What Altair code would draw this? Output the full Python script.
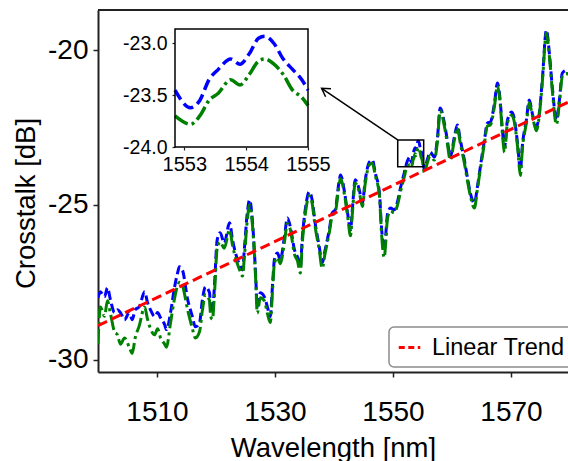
import altair as alt
import pandas as pd

# ---------------- data ----------------
WAVELENGTH = [
    1500.0, 1500.4, 1501.1, 1501.6, 1502.1, 1502.8, 1503.3, 1503.8, 1504.5, 1505.3,
    1505.8, 1506.3, 1507.0, 1507.9, 1508.4, 1508.9, 1509.6, 1510.1, 1510.6, 1511.3,
    1511.6, 1512.3, 1512.9, 1513.5, 1513.8, 1514.3, 1515.2, 1516.0, 1516.5, 1517.2,
    1517.7, 1518.2, 1518.9, 1519.1, 1519.4, 1519.7, 1520.2, 1520.7, 1521.4, 1522.3,
    1522.8, 1523.3, 1524.0, 1524.5, 1524.8, 1525.3, 1525.7, 1526.2, 1526.7, 1527.0,
    1527.5, 1528.2, 1528.7, 1529.2, 1529.6, 1529.9, 1530.4, 1530.9, 1531.6, 1532.1,
    1532.6, 1533.3, 1533.8, 1534.3, 1534.6, 1535.2, 1535.8, 1536.3, 1536.8, 1537.5,
    1538.0, 1538.5, 1539.2, 1539.7, 1540.2, 1540.9, 1541.1, 1541.8, 1542.3, 1542.8,
    1543.1, 1543.6, 1544.3, 1544.8, 1545.3, 1546.0, 1546.5, 1547.0, 1547.7, 1548.0,
    1548.5, 1549.1, 1549.6, 1550.2, 1550.7, 1551.3, 1551.9, 1552.4, 1552.85, 1553.1,
    1553.25, 1553.4, 1553.55, 1553.75, 1553.9, 1554.05, 1554.2, 1554.3, 1554.45, 1554.6,
    1554.75, 1554.9, 1555.0, 1555.3, 1555.8, 1556.3, 1557.0, 1557.5, 1558.0, 1558.7,
    1559.2, 1559.7, 1560.4, 1560.9, 1561.4, 1562.1, 1562.6, 1563.1, 1563.8, 1564.3,
    1564.8, 1565.5, 1566.0, 1566.5, 1567.2, 1567.7, 1568.2, 1568.5, 1568.9, 1569.4,
    1570.1, 1570.6, 1571.1, 1571.6, 1571.9, 1572.6, 1573.1, 1573.6, 1574.3, 1574.8,
    1575.3, 1576.0, 1576.5, 1577.0, 1577.7, 1578.2, 1578.7, 1579.4, 1580.0,
]

BLUE = [
    -28.0, -27.81, -27.97, -27.68, -28.06, -28.48, -28.39, -28.48, -28.71, -28.48,
    -28.71, -28.39, -28.29, -27.81, -28.16, -28.39, -28.61, -28.48, -28.65, -28.87,
    -29.03, -28.48, -27.74, -27.19, -27.00, -27.10, -28.06, -28.61, -28.94, -28.81,
    -28.06, -27.65, -27.84, -28.39, -28.48, -27.74, -26.13, -25.90, -26.23, -25.58,
    -26.13, -26.55, -26.94, -27.10, -26.45, -25.26, -24.84, -25.58, -27.19, -28.29,
    -27.84, -27.97, -28.29, -28.61, -27.52, -26.77, -26.55, -26.77, -26.03, -25.42,
    -25.71, -26.45, -26.68, -27.00, -26.13, -25.06, -24.58, -24.84, -25.58, -26.35,
    -26.87, -26.45, -25.81, -25.26, -25.16, -24.19, -24.03, -24.61, -25.26, -25.81,
    -25.16, -24.19, -24.52, -24.94, -24.19, -23.61, -23.55, -23.97, -24.61, -25.58,
    -26.45, -25.26, -25.10, -25.16, -24.94, -24.42, -23.97, -23.60, -23.45, -23.62,
    -23.55, -23.35, -23.25, -23.15, -23.20, -23.10, -22.95, -22.93, -23.00, -23.15,
    -23.25, -23.35, -23.45, -23.87, -23.55, -23.29, -23.45, -22.90, -21.87, -22.35,
    -22.90, -23.45, -22.81, -22.42, -22.90, -23.55, -24.10, -24.61, -24.94, -24.42,
    -23.77, -22.90, -22.35, -22.32, -21.71, -21.06, -21.71, -22.48, -23.13, -22.26,
    -22.00, -22.26, -23.00, -23.87, -23.13, -22.26, -21.61, -22.03, -22.48, -22.03,
    -20.97, -19.35, -20.10, -21.19, -22.26, -21.61, -20.74, -20.65, -20.80,
]

GREEN = [
    -29.5, -28.3, -28.6, -28.1, -28.5, -29.1, -29.2, -29.5, -29.3, -29.6,
    -29.8, -29.3, -28.9, -28.3, -28.7, -29.0, -29.2, -29.0, -29.3, -29.5,
    -29.6, -28.8, -28.1, -27.6, -27.5, -27.6, -28.4, -29.0, -29.3, -29.1,
    -28.4, -27.9, -28.1, -28.6, -28.7, -28.0, -26.4, -26.2, -26.4, -25.8,
    -26.3, -26.7, -27.1, -27.3, -26.7, -25.5, -25.0, -25.7, -27.3, -28.5,
    -28.0, -28.1, -28.5, -28.8, -27.7, -26.9, -26.7, -26.9, -26.2, -25.6,
    -25.8, -26.6, -26.8, -27.2, -26.3, -25.2, -24.7, -24.95, -25.7, -26.45,
    -27.05, -26.55, -25.9, -25.35, -25.25, -24.3, -24.15, -24.7, -25.35, -26.0,
    -25.3, -24.3, -24.6, -25.05, -24.3, -23.7, -23.65, -24.05, -24.7, -25.75,
    -26.7, -25.4, -25.2, -25.25, -25.05, -24.55, -24.1, -23.75, -23.70, -23.78,
    -23.70, -23.55, -23.48, -23.35, -23.40, -23.30, -23.17, -23.15, -23.20, -23.30,
    -23.45, -23.52, -23.60, -23.95, -23.65, -23.4, -23.55, -23.0, -21.95, -22.45,
    -23.0, -23.55, -22.9, -22.5, -23.0, -23.65, -24.2, -24.7, -25.1, -24.5,
    -23.85, -23.0, -22.45, -22.42, -21.8, -21.15, -21.8, -22.6, -23.3, -22.35,
    -22.1, -22.35, -23.1, -24.05, -23.25, -22.35, -21.7, -22.1, -22.6, -22.1,
    -21.05, -19.45, -20.2, -21.3, -22.4, -21.7, -20.85, -20.75, -20.9,
]

TREND_X = [1500.0, 1580.0]
TREND_Y = [-28.9, -21.65]
TREND_LABEL = "Linear Trend"

X_TICKS = [1510, 1530, 1550, 1570]
Y_TICKS = [-30, -25, -20]
X_DOMAIN = [1500.0, 1579.66]
Y_DOMAIN = [-30.4, -18.7]

INSET_X_TICKS = [1553, 1554, 1555]
INSET_Y_TICKS = [-24.0, -23.5, -23.0]
INSET_X_DOMAIN = [1552.85, 1555.0]
INSET_Y_DOMAIN = [-24.0, -22.86]

ZOOM_BOX_X = [1550.8, 1555.2]
ZOOM_BOX_Y = [-23.77, -22.9]
ARROW_TIP = [1537.9, -21.23]

# ---------------- layout constants ----------------
W, H = 470, 362
FONT = "Liberation Sans"
DARK = "#222222"
MINUS_FIX = "replace(datum.label, '\u2212', '-')"

df = pd.DataFrame({"wl": WAVELENGTH, "blue": BLUE, "green": GREEN})
trend_df = pd.DataFrame({"wl": TREND_X, "db": TREND_Y, "label": [TREND_LABEL] * 2})
box_df = pd.DataFrame({"x": [ZOOM_BOX_X[0]], "x2": [ZOOM_BOX_X[1]],
                       "y": [ZOOM_BOX_Y[0]], "y2": [ZOOM_BOX_Y[1]]})
arrow_df = pd.DataFrame({"x": [ZOOM_BOX_X[0], ARROW_TIP[0]],
                         "y": [ZOOM_BOX_Y[1], ARROW_TIP[1]]})
tip_df = pd.DataFrame({"x": [ARROW_TIP[0]], "y": [ARROW_TIP[1]]})
inset_df = df[(df.wl >= INSET_X_DOMAIN[0]) & (df.wl <= INSET_X_DOMAIN[1])]
frame_df = pd.DataFrame({"x": [INSET_X_DOMAIN[0]], "x2": [INSET_X_DOMAIN[1]],
                         "y": [INSET_Y_DOMAIN[0]], "y2": [INSET_Y_DOMAIN[1]]})

xs = alt.Scale(domain=X_DOMAIN, nice=False, zero=False)
ys = alt.Scale(domain=Y_DOMAIN, nice=False, zero=False)

x_axis = alt.Axis(values=X_TICKS, format="d", title="Wavelength [nm]", grid=False,
                  labelFontSize=28, labelPadding=21, tickSize=5, tickWidth=1.5,
                  tickColor=DARK, domainColor=DARK, domainWidth=2, labelColor="black",
                  labelOverlap=False,
                  titleFontSize=27.5, titleFontWeight="normal", titleColor="black",
                  titleY=84, titleBaseline="alphabetic")
y_axis = alt.Axis(values=Y_TICKS, format="d", labelExpr=MINUS_FIX, title="Crosstalk [dB]",
                  grid=False, labelFontSize=28, labelPadding=5, tickSize=5, tickWidth=1.5,
                  tickColor=DARK, domainColor=DARK, domainWidth=2, labelColor="black",
                  labelOverlap=False,
                  titleFontSize=27.5, titleFontWeight="normal", titleColor="black",
                  titleX=-72, titleY=193, titleAngle=270, titleAlign="center",
                  titleBaseline="middle")


def X(field):
    return alt.X(field, type="quantitative", scale=xs, axis=x_axis)


def Y(field):
    return alt.Y(field, type="quantitative", scale=ys, axis=y_axis)


blue = alt.Chart(df).mark_line(color="#0000ff", strokeWidth=3, strokeDash=[9, 4],
                               interpolate="monotone", clip=True).encode(
    x=X("wl"), y=Y("blue"))
green = alt.Chart(df).mark_line(color="#008000", strokeWidth=3, strokeDash=[15, 4, 3, 4],
                                interpolate="monotone", clip=True).encode(
    x=X("wl"), y=Y("green"))
trend = alt.Chart(trend_df).mark_line(strokeWidth=3, strokeDash=[10, 5], clip=True).encode(
    x=X("wl"), y=Y("db"),
    color=alt.Color("label:N",
                    scale=alt.Scale(domain=[TREND_LABEL], range=["#ff0000"]),
                    legend=alt.Legend(title=None, orient="none", legendX=291, legendY=317,
                                      fillColor="white", strokeColor="#8c8c8c",
                                      cornerRadius=5, padding=8, labelFontSize=23.5,
                                      labelFont=FONT, labelColor="black",
                                      symbolType="stroke", symbolStrokeWidth=3,
                                      symbolSize=460, symbolDash=[6, 3.5], labelOffset=10)))
zoom_box = alt.Chart(box_df).mark_rect(fillOpacity=0, stroke="black", strokeWidth=1.5).encode(
    x=X("x"), x2="x2", y=Y("y"), y2="y2")
arrow_line = alt.Chart(arrow_df).mark_line(color="black", strokeWidth=1.5).encode(
    x=X("x"), y=Y("y"))
arrow_head = alt.Chart(tip_df).mark_point(shape="M-0.6,1L0,0L0.6,1", angle=304, size=260,
                                          filled=False, stroke="black", strokeWidth=1.5,
                                          opacity=1).encode(x=X("x"), y=Y("y"))
top_spine = alt.Chart(pd.DataFrame({"k": [0]})).mark_rule(color=DARK, strokeWidth=2).encode(
    x=alt.value(0), x2=alt.value(W), y=alt.value(0))

main = alt.layer(blue, green, trend, zoom_box, arrow_line, arrow_head, top_spine)

# ---------------- inset ----------------
ixs = alt.Scale(domain=INSET_X_DOMAIN, range=[77, 210], nice=False, zero=False)
iys = alt.Scale(domain=INSET_Y_DOMAIN, range=[137, 19], nice=False, zero=False)
ix_axis = alt.Axis(orient="bottom", offset=-225, values=INSET_X_TICKS, format="d", title=None,
                   grid=False, domain=False, labelFontSize=20, labelPadding=4, tickSize=3,
                   tickWidth=1.2, tickColor=DARK, labelColor="black", labelOverlap=False,
                   labelBound=False, labelFlush=False)
iy_axis = alt.Axis(orient="left", offset=-77, values=INSET_Y_TICKS, format=".1f",
                   labelExpr=MINUS_FIX, title=None, grid=False, domain=False,
                   labelFontSize=19.5, labelPadding=5, tickSize=3, tickWidth=1.2,
                   tickColor=DARK, labelColor="black", labelOverlap=False,
                   labelBound=False, labelFlush=False)


def IX(field):
    return alt.X(field, type="quantitative", scale=ixs, axis=ix_axis)


def IY(field):
    return alt.Y(field, type="quantitative", scale=iys, axis=iy_axis)


inset_bg = alt.Chart(frame_df).mark_rect(fill="white").encode(
    x=IX("x"), x2="x2", y=IY("y"), y2="y2")
inset_blue = alt.Chart(inset_df).mark_line(color="#0000ff", strokeWidth=3.5,
                                           strokeDash=[11, 5], interpolate="monotone").encode(
    x=IX("wl"), y=IY("blue"))
inset_green = alt.Chart(inset_df).mark_line(color="#008000", strokeWidth=3.5,
                                            strokeDash=[15, 4, 3, 4],
                                            interpolate="monotone").encode(
    x=IX("wl"), y=IY("green"))
inset_frame = alt.Chart(frame_df).mark_rect(fillOpacity=0, stroke="black",
                                            strokeWidth=1.5).encode(
    x=IX("x"), x2="x2", y=IY("y"), y2="y2")

inset = alt.layer(inset_bg, inset_blue, inset_green, inset_frame)

chart = alt.layer(main, inset).resolve_scale(x="independent", y="independent").properties(
    width=W, height=H,
    autosize=alt.AutoSizeParams(type="none"),
    padding={"left": 98, "top": 10, "right": 0, "bottom": 89},
    background="white",
).configure(font=FONT).configure_view(strokeWidth=0).configure_legend(strokeWidth=1.5)

chart.save("out.html", embed_options={"renderer": "svg", "actions": False})
